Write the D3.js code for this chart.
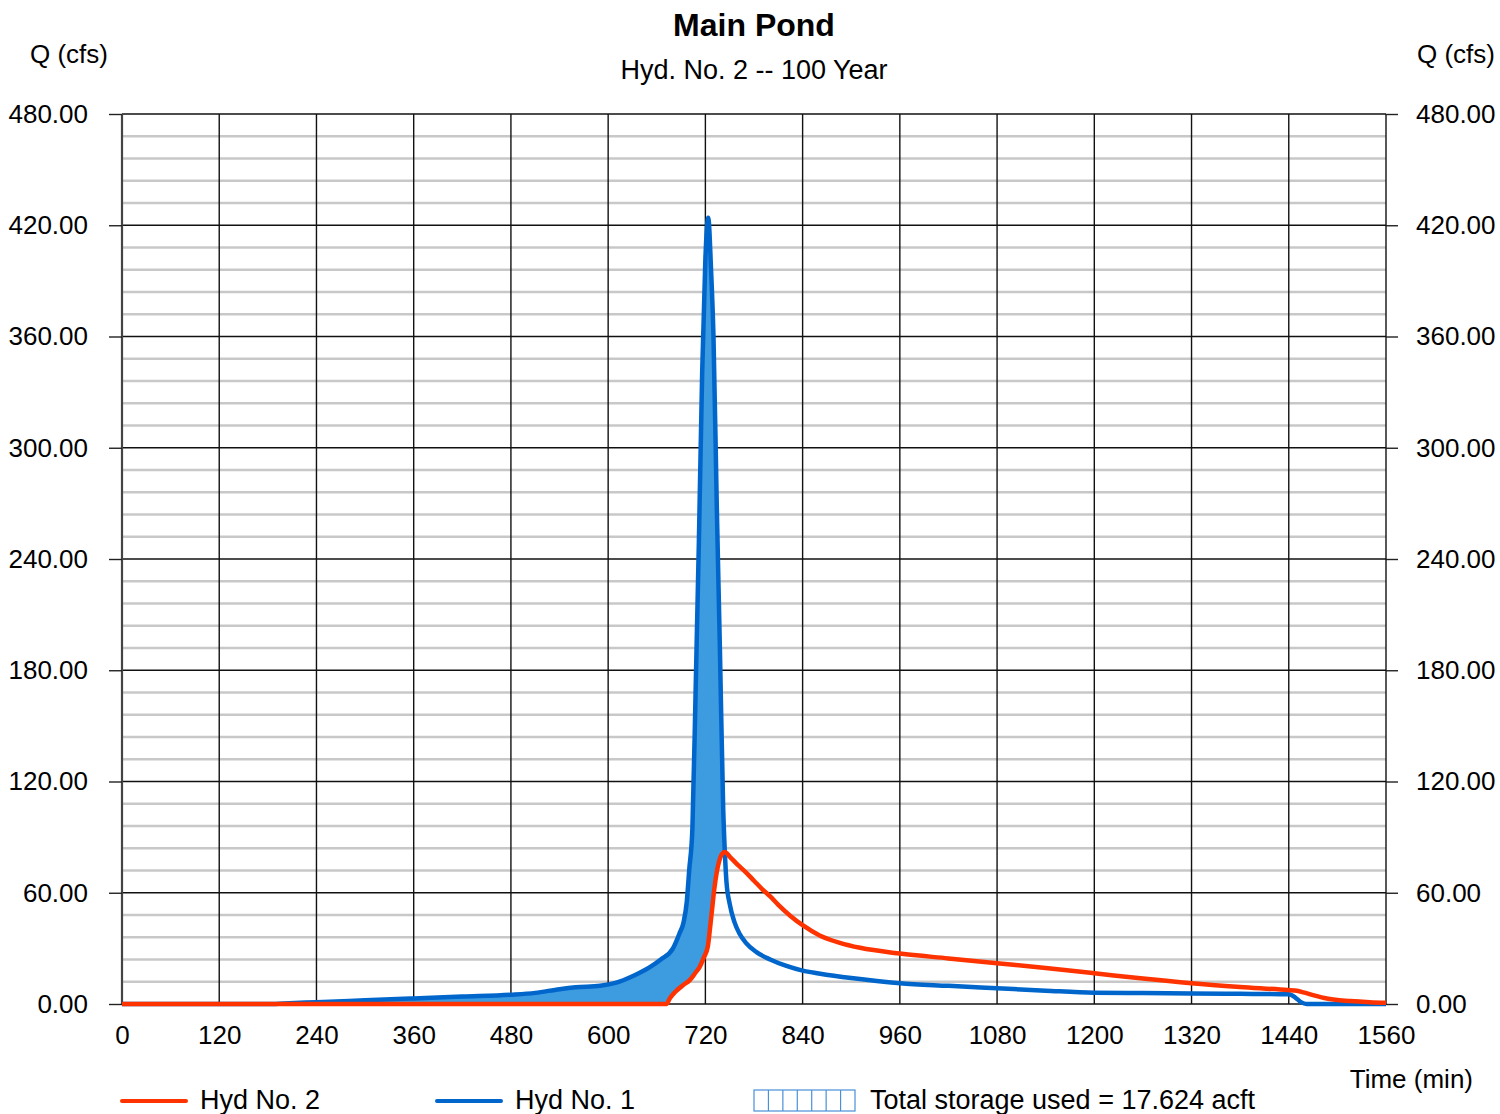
<!DOCTYPE html>
<html>
<head>
<meta charset="utf-8">
<script src="https://cdn.jsdelivr.net/npm/d3@7"></script>
<style>
  html, body { margin: 0; padding: 0; background: #fff; }
  svg { display: block; font-family: "Liberation Sans", Arial, sans-serif; }
</style>
</head>
<body>
<svg id="chart" width="1500" height="1114"></svg>
<script>
// ---- Data ----
const xTicks = [0, 120, 240, 360, 480, 600, 720, 840, 960, 1080, 1200, 1320, 1440, 1560];
const yTicks = [0, 60, 120, 180, 240, 300, 360, 420, 480];
const yMinorTicks = d3.range(0, 481, 12);

// Hyd No. 1 (inflow) : [time (min), Q (cfs)]
const hyd1 = [
  [0, 0], [180, 0], [200, 0.3], [240, 1], [300, 2], [360, 3], [420, 4], [480, 5],
  [510, 6], [540, 8], [560, 9], [590, 9.8], [610, 11.5], [630, 15], [650, 19.5],
  [665, 24], [680, 30], [688, 38], [693, 44], [697, 55], [700, 72], [704, 95],
  [708, 170], [712, 250], [716, 340], [720, 402], [723.5, 424], [727, 396],
  [730, 360], [734, 270], [738, 190], [742, 105], [744, 82], [746, 66], [750, 54],
  [756, 44], [762, 38], [770, 33], [783, 28], [800, 24], [820, 20.5], [840, 18],
  [860, 16.5], [900, 14], [960, 11.2], [1020, 9.8], [1080, 8.5], [1140, 7.2],
  [1200, 6.1], [1260, 5.9], [1320, 5.7], [1380, 5.5], [1440, 5.2], [1448, 3.5],
  [1455, 1], [1462, 0], [1560, 0]
];

// Hyd No. 2 (outflow) : [time (min), Q (cfs)]
const hyd2 = [
  [0, 0], [672, 0], [676, 3], [683, 6.6], [692, 10], [701, 13], [708, 17],
  [713, 20], [718, 25], [723, 31], [726, 42], [728, 50], [731, 62], [734, 71],
  [737, 77], [740, 80.5], [744, 82], [750, 79.5], [760, 75], [770, 71],
  [780, 66.5], [790, 62], [800, 58], [810, 53.5], [825, 47.5], [840, 42.5],
  [861, 37], [886, 33], [911, 30.3], [960, 27.2], [1020, 24.6], [1080, 22],
  [1140, 19.4], [1200, 16.6], [1260, 13.7], [1320, 11.2], [1380, 9.2],
  [1439, 7.5], [1450, 7.1], [1458, 6.3], [1470, 4.8], [1487, 3], [1500, 2.2],
  [1516, 1.6], [1540, 1], [1560, 0.7]
];

const storageEnd = 744; // storage fill ends where the curves cross
const titleText = "Main Pond";
const subtitleText = "Hyd. No. 2 -- 100 Year";
const storageText = "Total storage used = 17.624 acft";

// ---- Drawing ----
const svg = d3.select("#chart");
const x = d3.scaleLinear().domain([0, 1560]).range([122, 1386]);
const y = d3.scaleLinear().domain([0, 480]).range([1004, 114]);

const RED = "#ff3300", BLUE = "#0066cc", FILL = "#3d9be0";
const FONT = 26;
const FONT_L = 27;

// minor gridlines
svg.append("g").selectAll("line")
  .data(yMinorTicks.filter(v => v % 60 !== 0))
  .join("line")
  .attr("x1", x(0)).attr("x2", x(1560))
  .attr("y1", d => y(d)).attr("y2", d => y(d))
  .attr("stroke", "#c8c8c8").attr("stroke-width", 2.5);

// major horizontal
svg.append("g").selectAll("line")
  .data(yTicks)
  .join("line")
  .attr("x1", x(0)).attr("x2", x(1560))
  .attr("y1", d => y(d)).attr("y2", d => y(d))
  .attr("stroke", "#111").attr("stroke-width", 1.4);

// major vertical
svg.append("g").selectAll("line")
  .data(xTicks)
  .join("line")
  .attr("x1", d => x(d)).attr("x2", d => x(d))
  .attr("y1", y(0)).attr("y2", y(480))
  .attr("stroke", d => d === 0 ? "#444" : "#111")
  .attr("stroke-width", d => d === 0 ? 2.2 : 1.4);

// axes (left & right) with tick marks
const fmt = d3.format(".2f");
const leftAxis = svg.append("g").attr("transform", `translate(${x(0)},0)`)
  .call(d3.axisLeft(y).tickValues(yTicks).tickFormat(fmt).tickSize(13).tickPadding(21));
const rightAxis = svg.append("g").attr("transform", `translate(${x(1560)},0)`)
  .call(d3.axisRight(y).tickValues(yTicks).tickFormat(fmt).tickSize(12).tickPadding(18));
[leftAxis, rightAxis].forEach(g => {
  g.select(".domain").remove();
  g.selectAll(".tick line").attr("stroke", "#222").attr("stroke-width", 1.4);
  g.selectAll(".tick text").attr("font-size", FONT).attr("fill", "#000")
    .attr("font-family", "Liberation Sans, Arial, sans-serif");
});

// bottom axis labels
const bottomAxis = svg.append("g").attr("transform", `translate(0,${y(0)})`)
  .call(d3.axisBottom(x).tickValues(xTicks).tickFormat(d3.format("d")).tickSize(0).tickPadding(22));
bottomAxis.select(".domain").remove();
bottomAxis.selectAll(".tick text").attr("font-size", FONT).attr("fill", "#000")
  .attr("font-family", "Liberation Sans, Arial, sans-serif");

// storage fill: area between inflow and outflow up to crossing
function interp(series, t) {
  for (let i = 1; i < series.length; i++) {
    const [t0, v0] = series[i - 1], [t1, v1] = series[i];
    if (t <= t1) return v0 + (v1 - v0) * (t - t0) / (t1 - t0);
  }
  return series[series.length - 1][1];
}
const times = Array.from(new Set(hyd1.map(d => d[0]).concat(hyd2.map(d => d[0]))))
  .filter(t => t <= storageEnd).sort((a, b) => a - b);
const fillData = times.map(t => ({ t, hi: interp(hyd1, t), lo: interp(hyd2, t) }));
svg.append("path")
  .datum(fillData)
  .attr("fill", FILL)
  .attr("d", d3.area().curve(d3.curveMonotoneX)
    .x(d => x(d.t)).y0(d => y(Math.min(d.lo, d.hi))).y1(d => y(d.hi)));

const line = d3.line().curve(d3.curveMonotoneX).x(d => x(d[0])).y(d => y(d[1]));
svg.append("path").datum(hyd1).attr("fill", "none").attr("stroke", BLUE)
  .attr("stroke-width", 4.5).attr("stroke-linejoin", "round").attr("d", line);
svg.append("path").datum(hyd2).attr("fill", "none").attr("stroke", RED)
  .attr("stroke-width", 4.5).attr("stroke-linejoin", "round").attr("d", line);

// titles
svg.append("text").attr("x", 754).attr("y", 36).attr("text-anchor", "middle")
  .attr("font-size", 32).attr("font-weight", "bold").text(titleText);
svg.append("text").attr("x", 754).attr("y", 79).attr("text-anchor", "middle")
  .attr("font-size", FONT_L).text(subtitleText);
svg.append("text").attr("x", 30).attr("y", 63).attr("font-size", FONT).text("Q (cfs)");
svg.append("text").attr("x", 1495).attr("y", 63).attr("text-anchor", "end")
  .attr("font-size", FONT).text("Q (cfs)");
svg.append("text").attr("x", 1473).attr("y", 1088).attr("text-anchor", "end")
  .attr("font-size", FONT).text("Time (min)");

// legend
const legendItems = [
  { label: "Hyd No. 2", color: RED, x0: 122 },
  { label: "Hyd No. 1", color: BLUE, x0: 437 }
];
const lg = svg.append("g");
legendItems.forEach(it => {
  lg.append("line").attr("x1", it.x0).attr("x2", it.x0 + 64)
    .attr("y1", 1101).attr("y2", 1101)
    .attr("stroke", it.color).attr("stroke-width", 4).attr("stroke-linecap", "round");
  lg.append("text").attr("x", it.x0 + 78).attr("y", 1109).attr("font-size", FONT_L).text(it.label);
});
const bx = 754, bw = 101, bh = 21, by = 1090;
lg.append("rect").attr("x", bx).attr("y", by).attr("width", bw).attr("height", bh)
  .attr("fill", "#fff").attr("stroke", "#4a90d9").attr("stroke-width", 1.2);
d3.range(1, 7).forEach(i => {
  lg.append("line").attr("x1", bx + i * bw / 7).attr("x2", bx + i * bw / 7)
    .attr("y1", by).attr("y2", by + bh).attr("stroke", "#4a90d9").attr("stroke-width", 1.2);
});
lg.append("text").attr("x", 870).attr("y", 1109).attr("font-size", FONT_L).text(storageText);
</script>
</body>
</html>
